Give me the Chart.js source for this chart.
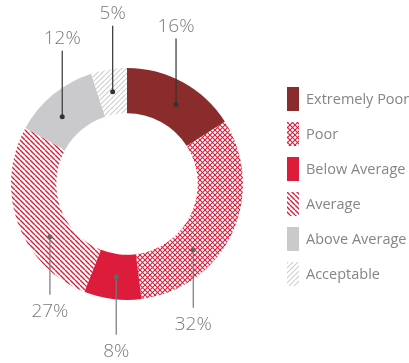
<!DOCTYPE html>
<html>
<head>
<meta charset="utf-8">
<script src="https://cdn.jsdelivr.net/npm/chart.js@4"></script>
<style>
  html, body { margin: 0; padding: 0; background: #fff; }
  #wrap { width: 409px; height: 363px; }
</style>
</head>
<body>
<div id="wrap"><canvas id="ratingChart" width="409" height="363"></canvas></div>
<script>
const categories = ['Extremely Poor', 'Poor', 'Below Average', 'Average', 'Above Average', 'Acceptable'];
const shares = [16, 32, 8, 27, 12, 5];

const canvas = document.getElementById('ratingChart');
const ctx = canvas.getContext('2d');

// small tiles for the hatched slices
function hatch(color, size, dirs, width) {
  const c = document.createElement('canvas');
  c.width = c.height = size;
  const g = c.getContext('2d');
  g.fillStyle = '#fff';
  g.fillRect(0, 0, size, size);
  g.strokeStyle = color;
  g.lineWidth = width;
  for (const d of dirs) {
    for (let k = -size; k <= size; k += size) {
      g.beginPath();
      if (d === '\\') { g.moveTo(k, 0); g.lineTo(k + size, size); }
      else { g.moveTo(k, size); g.lineTo(k + size, 0); }
      g.stroke();
    }
  }
  return ctx.createPattern(c, 'repeat');
}

const red = '#dc1c3a';
const fills = [
  '#8b2c2c',
  hatch(red, 5, ['\\', '/'], 1.1),
  red,
  hatch(red, 5, ['\\'], 1.4),
  '#cacacd',
  hatch('#cfcfd1', 5, ['/'], 1.2)
];

// where along each slice the leader dot sits (fraction of slice angle)
const leaderPos = [0.55, 0.67, 0.48, 0.35, 0.40, 0.51];

const leaderLabels = {
  id: 'leaderLabels',
  afterDatasetsDraw(chart) {
    const c = chart.ctx;
    const arcs = chart.getDatasetMeta(0).data;
    c.save();
    arcs.forEach((arc, i) => {
      const a = arc.startAngle + leaderPos[i] * (arc.endAngle - arc.startAngle);
      const r = (arc.innerRadius + arc.outerRadius) / 2;
      const x = arc.x + Math.cos(a) * r;
      const y = arc.y + Math.sin(a) * r;
      const up = y < arc.y;
      const ty = up ? y - 78 : y + 75;
      c.strokeStyle = up ? '#333' : '#777';
      c.lineWidth = 1.2;
      c.beginPath();
      c.moveTo(x, y);
      c.lineTo(x, up ? ty + 12 : ty - 17);
      c.stroke();
      c.fillStyle = up ? '#333' : '#666';
      c.beginPath();
      c.arc(x, y, 2.5, 0, Math.PI * 2);
      c.fill();
      c.fillStyle = '#7a7a7a';
      c.font = '300 19px "Open Sans", sans-serif';
      c.textAlign = 'center';
      c.textBaseline = 'middle';
      c.fillText(shares[i] + '%', x, ty);
    });
    c.restore();
  }
};

const sideLegend = {
  id: 'sideLegend',
  afterDraw(chart) {
    const c = chart.ctx;
    const bg = chart.data.datasets[0].backgroundColor;
    c.save();
    categories.forEach((name, i) => {
      const cy = 99 + i * 35;
      c.fillStyle = bg[i];
      c.fillRect(287, cy - 12, 12, 24);
      c.fillStyle = '#858585';
      c.font = '14.5px "Open Sans", sans-serif';
      c.textAlign = 'left';
      c.textBaseline = 'middle';
      c.fillText(name, 306, cy + 1);
    });
    c.restore();
  }
};

new Chart(ctx, {
  type: 'doughnut',
  data: {
    labels: categories,
    datasets: [{
      data: shares,
      backgroundColor: fills,
      borderWidth: 0
    }]
  },
  options: {
    responsive: false,
    animation: false,
    cutout: '61%',
    layout: { padding: { left: 11, right: 166, top: 68, bottom: 63 } },
    plugins: {
      legend: { display: false },
      tooltip: { enabled: false }
    }
  },
  plugins: [leaderLabels, sideLegend]
});
</script>
</body>
</html>
